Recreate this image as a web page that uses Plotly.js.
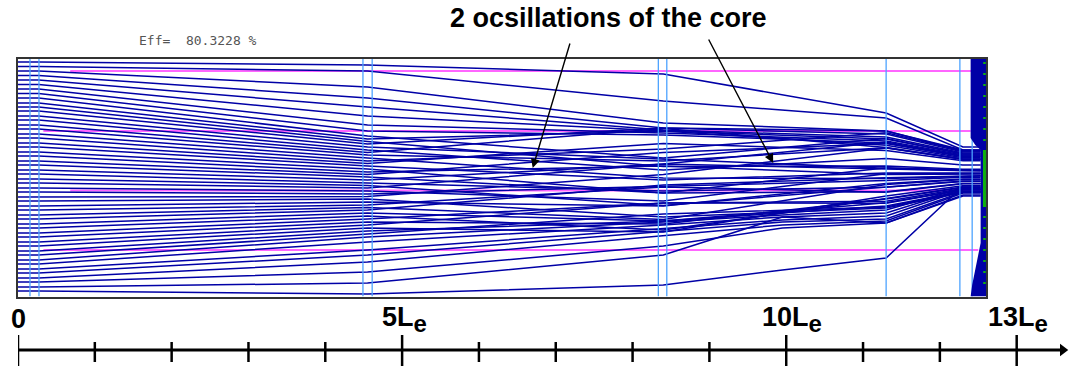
<!DOCTYPE html>
<html>
<head>
<meta charset="utf-8">
<script src="https://cdn.plot.ly/plotly-3.0.1.min.js"></script>
<style>html,body{margin:0;padding:0;background:#fff;}#chart{width:1071px;height:366px;}</style>
</head>
<body>
<div id="chart"></div>
<script>
// ---- Data (x in Le, r in beam units: 0 = bottom edge) ----
const stationsMain  = [0, 0.27, 4.55, 8.4, 11.3, 12.3];
const stationsLower = [0, 0.27, 4.55, 8.4, 9.95, 11.3, 12.3];
const collectorFace = 12.53;

const upperStart = [238, 233.5, 229, 224.5, 220, 215.5, 211, 206.5];
const upperAt455 = [235, 229, 213, 202, 193, 184, 175, 169];
const upperAt84  = [226, 199, 177, 172, 170, 169, 167, 165];
const upperAt113 = [187, 182, 169, 166, 163, 161, 159, 157];
const upperAt123 = [153, 150, 149, 148, 147, 146, 145, 144];

const coreStart = [202, 197, 193, 189, 184, 180, 175, 171, 166, 162, 157, 153, 148, 144, 139, 135, 130, 126,
                   121, 117, 112, 108, 103, 99, 94, 90, 85, 81, 76, 72, 67, 63, 58, 54, 49, 45];
const coreAt455 = [164, 161, 158.5, 156, 153, 150, 147.5, 145, 142, 139, 136.5, 134, 131, 128, 125.5, 123, 120, 117,
                   114.5, 112, 109, 106, 103.5, 101, 98, 95, 92.5, 90, 87, 84, 81, 78, 75, 72, 69, 66];
const coreAt84  = [142, 169, 133.5, 172, 141, 130, 171.5, 139, 122, 151, 156.5, 120, 107, 134, 147.5, 107, 136, 109,
                   94.5, 136, 99, 114, 125.5, 83, 94, 113, 80.5, 115, 79, 70, 97, 76, 97, 68, 79, 86];
const coreAt113 = [161.5, 154.8, 134.1, 169, 131.8, 141.5, 152.6, 152.3, 121.5, 167.3, 149.4, 127, 132.3, 125.5, 156.6, 108.3, 158, 112.8,
                   112.9, 131, 126.3, 119.5, 152.1, 92, 116.5, 107.8, 115.4, 122.3, 94, 101.5, 98.8, 101, 96.8, 104, 97.3, 93];
const coreAt123 = [145.9, 142.2, 130.8, 150, 129.5, 134.9, 141, 140.8, 123.9, 149, 139.2, 126.9, 129.8, 126.1, 143.2, 116.6, 144, 119.1,
                   118.5, 129.1, 126.5, 122.8, 140.7, 107.6, 121.1, 116.3, 120.5, 124.3, 108.7, 112.9, 111.4, 112.6, 110.3, 114.2, 110.5, 108.2];

const lowerStart = [40, 36, 31, 27, 22, 18, 13, 9];
const lowerAt455 = [63, 58, 50, 45, 38, 28, 17, 6];
const lowerAt84  = [78, 75, 71, 68, 64, 54, 45, 15];
const lowerAt995 = [85, 83, 80, 78, 75, 72, 83, 30];
const lowerAt113 = [90, 87, 84, 81, 79, 77, 77, 42];
const lowerAt123 = [112, 111, 110, 108, 107, 105, 104, 114];

const lensX = [0.156, 0.273, 4.49, 4.61, 8.335, 8.445, 11.3, 12.26, 12.42];
const magentaR  = [229, 169, 109.5, 50];
const magentaX0 = [0.68, 0.33, 0.68, 0.33];
const magentaX1 = [12.53, 12.4, 12.6, 12.5];

const collectorX = [12.40, 12.60, 12.60, 12.40, 12.42, 12.46, 12.50, 12.53, 12.53, 12.46, 12.40, 12.40];
const collectorR = [241, 241, 3.5, 3.5, 15, 30, 45, 57, 150, 155, 162, 241];
const greenStripX = 12.58;
const greenSolidR = [150, 93];
const greenDotR = [238, 8];

const majorTicks = [0, 5, 10, 13];
const majorNums = ['0', '5', '10', '13'];
const majorUnit = ['', 'L', 'L', 'L'];
const minorTicks = [1, 2, 3, 4, 6, 7, 8, 9, 11, 12];
const rulerEnd = 13.6;

const effText = 'Eff=\u00a0\u00a080.3228 %';
const titleText = '2 ocsillations of the core';

// ---- build traces ----
const BLUE = '#0000a6';
const trajX = [], trajY = [];
function addPath(xs, ys) {
  xs.forEach(v => trajX.push(v)); ys.forEach(v => trajY.push(v));
  trajX.push(null); trajY.push(null);
}
upperStart.forEach((s, i) => {
  addPath(stationsMain.concat([collectorFace]),
    [s, s, upperAt455[i], upperAt84[i], upperAt113[i], upperAt123[i], upperAt123[i]]);
});
coreStart.forEach((s, i) => {
  addPath(stationsMain.concat([collectorFace]),
    [s, s, coreAt455[i], coreAt84[i], coreAt113[i], coreAt123[i], coreAt123[i]]);
});
lowerStart.forEach((s, i) => {
  addPath(stationsLower.concat([collectorFace]),
    [s, s, lowerAt455[i], lowerAt84[i], lowerAt995[i], lowerAt113[i], lowerAt123[i], lowerAt123[i]]);
});

const magX = [], magY = [];
magentaR.forEach((r, i) => { magX.push(magentaX0[i], magentaX1[i], null); magY.push(r, r, null); });
const lensXs = [], lensYs = [];
lensX.forEach(v => { lensXs.push(v, v, null); lensYs.push(3.5, 241, null); });

const tickX = [], tickY = [];
majorTicks.forEach(t => { tickX.push(t, t, null); tickY.push(15, -20, null); });
minorTicks.forEach(t => { tickX.push(t, t, null); tickY.push(8, -12, null); });

const traces = [
  {x: magX, y: magY, mode: 'lines', line: {color: '#ff66ff', width: 2}, hoverinfo: 'skip'},
  {x: trajX, y: trajY, mode: 'lines', line: {color: BLUE, width: 1.5}, connectgaps: false, hoverinfo: 'skip'},
  {x: lensXs, y: lensYs, mode: 'lines', line: {color: '#4da3ff', width: 1.3}, hoverinfo: 'skip'},
  {x: collectorX, y: collectorR, mode: 'lines', fill: 'toself', fillcolor: BLUE, line: {color: BLUE, width: 0}, hoverinfo: 'skip'},
  {x: [greenStripX, greenStripX], y: greenDotR, mode: 'lines', line: {color: '#10b010', width: 2.5, dash: '2px,9px'}, hoverinfo: 'skip'},
  {x: [greenStripX, greenStripX], y: greenSolidR, mode: 'lines', line: {color: '#10b010', width: 3}, hoverinfo: 'skip'},
  {x: [0, rulerEnd], y: [0, 0], xaxis: 'x2', yaxis: 'y2', mode: 'lines', line: {color: '#000', width: 3}, hoverinfo: 'skip'},
  {x: tickX, y: tickY, xaxis: 'x2', yaxis: 'y2', mode: 'lines', line: {color: '#000', width: 2.5}, hoverinfo: 'skip'},
  {x: [rulerEnd], y: [0], xaxis: 'x2', yaxis: 'y2', mode: 'markers', cliponaxis: false,
   marker: {symbol: 'triangle-right', size: 11, color: '#000'}, hoverinfo: 'skip'}
];

const W = 1071, H = 366;
const annotations = [
  {xref: 'paper', yref: 'paper', x: 608 / W, y: 1 - 18 / H, xanchor: 'center', yanchor: 'middle', showarrow: false,
   text: '<b>' + titleText + '</b>', font: {family: 'Liberation Sans, Arial, sans-serif', size: 27, color: '#000'}},
  {xref: 'paper', yref: 'paper', x: 198 / W, y: 1 - 40 / H, xanchor: 'center', yanchor: 'middle', showarrow: false,
   text: effText, font: {family: 'DejaVu Sans Mono, monospace', size: 13, color: '#555'}},
  {xref: 'x', yref: 'y', x: 6.70, y: 132, axref: 'x', ayref: 'y', ax: 7.19, ay: 258, text: '', showarrow: true,
   arrowhead: 2, arrowsize: 1.3, arrowwidth: 1.4, arrowcolor: '#000', standoff: 0},
  {xref: 'x', yref: 'y', x: 9.83, y: 137, axref: 'x', ayref: 'y', ax: 8.98, ay: 262, text: '', showarrow: true,
   arrowhead: 2, arrowsize: 1.3, arrowwidth: 1.4, arrowcolor: '#000', standoff: 0}
];
const labelShift = [0, 0.03, 0.07, 0.02];
majorTicks.forEach((t, i) => {
  const unit = majorUnit[i] ? majorUnit[i] + '<sub><span style="font-size:24px">e</span></sub>' : '';
  annotations.push({xref: 'x2', yref: 'y2', x: t + labelShift[i], y: 31, xanchor: 'center', yanchor: 'middle',
    showarrow: false, text: '<b>' + majorNums[i] + unit + '</b>',
    font: {family: 'Liberation Sans, Arial, sans-serif', size: 27, color: '#000'}});
});

const layout = {
  width: W, height: H,
  margin: {l: 0, r: 0, t: 0, b: 0},
  paper_bgcolor: '#fff', plot_bgcolor: '#fff',
  showlegend: false,
  xaxis: {domain: [18 / W, 986 / W], range: [0, 12.6], showgrid: false, zeroline: false, showticklabels: false,
          ticks: '', showline: true, mirror: true, linecolor: '#333', linewidth: 2, anchor: 'y'},
  yaxis: {domain: [1 - 296.5 / H, 1 - 59 / H], range: [3.5, 241], showgrid: false, zeroline: false, showticklabels: false,
          ticks: '', showline: true, mirror: true, linecolor: '#333', linewidth: 2, anchor: 'x'},
  xaxis2: {domain: [18 / W, 1070 / W], range: [0, 13.694], visible: false, anchor: 'y2'},
  yaxis2: {domain: [0, 66 / H], range: [-16, 50], visible: false, anchor: 'x2'},
  annotations: annotations
};

Plotly.newPlot('chart', traces, layout, {staticPlot: true, displayModeBar: false});
</script>
</body>
</html>
